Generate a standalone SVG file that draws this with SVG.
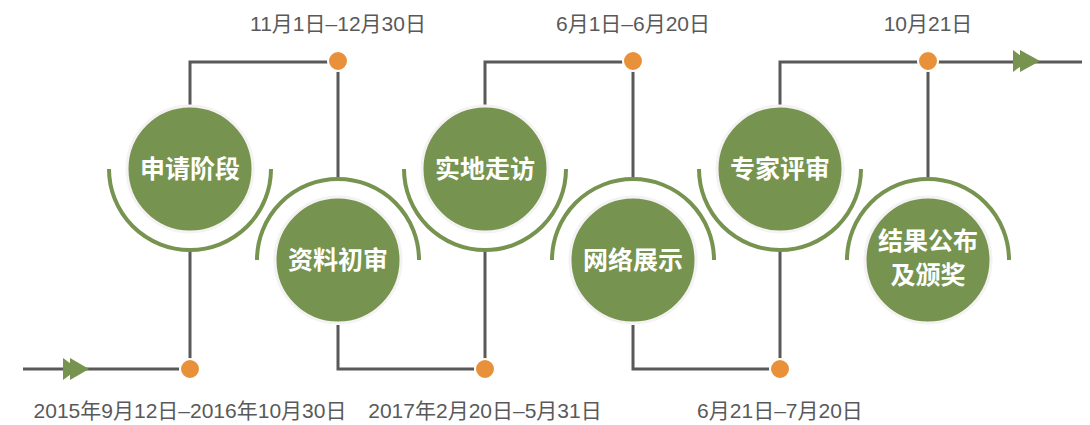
<svg xmlns="http://www.w3.org/2000/svg" width="1090" height="425" viewBox="0 0 1090 425">
<style>
.ln{fill:none;stroke:#595959;stroke-width:3}
.arc{fill:none;stroke:#76934f;stroke-width:4}
.c{fill:#76934f;stroke:#f4f2f2;stroke-width:3}
.dot{fill:#e8913a;stroke:#fff;stroke-width:2}
.arw{fill:#76934f}
.dt{font-family:"Liberation Sans","Noto Sans CJK SC",sans-serif;font-size:21px;fill:#595959;text-anchor:middle}
.t{font-family:"Noto Sans CJK SC",sans-serif;font-size:25px;font-weight:bold;fill:#fff;text-anchor:middle}
</style>
<rect width="1090" height="425" fill="#fff"/>
<g id="connectors">
<path class="ln" d="M23 369 H190 M190 250 V369 M190 105 V62 H338 M338 62 V178 M338 325 V369 H485 M485 369 V250 M485 105 V62 H633 M633 62 V178 M633 325 V369 H780 M780 369 V250 M780 105 V62 H1082 M928 62 V178"/>
<polygon class="arw" points="63,358 63,380 78,369"/>
<polygon class="arw" points="70,358 70,380 89,369"/>
<polygon class="arw" points="1013,50 1013,72 1028,61"/>
<polygon class="arw" points="1020,50 1020,72 1040,61"/>
</g>
<g id="dot1"><circle class="dot" cx="190" cy="369" r="10"/></g>
<g id="dot2"><circle class="dot" cx="338" cy="61" r="10"/></g>
<g id="dot3"><circle class="dot" cx="485" cy="369" r="10"/></g>
<g id="dot4"><circle class="dot" cx="633" cy="61" r="10"/></g>
<g id="dot5"><circle class="dot" cx="780" cy="369" r="10"/></g>
<g id="dot6"><circle class="dot" cx="928" cy="61" r="10"/></g>
<g id="node1">
<path class="arc" d="M109 169 A81 81 0 0 0 271 169"/>
<circle class="c" cx="190" cy="169" r="63"/>
<text class="t" x="190" y="178">申请阶段</text>
</g>
<g id="node2">
<path class="arc" d="M257 260 A81 81 0 0 1 419 260"/>
<circle class="c" cx="338" cy="260" r="63"/>
<text class="t" x="338" y="269">资料初审</text>
</g>
<g id="node3">
<path class="arc" d="M404 169 A81 81 0 0 0 566 169"/>
<circle class="c" cx="485" cy="169" r="63"/>
<text class="t" x="485" y="178">实地走访</text>
</g>
<g id="node4">
<path class="arc" d="M552 260 A81 81 0 0 1 714 260"/>
<circle class="c" cx="633" cy="260" r="63"/>
<text class="t" x="633" y="269">网络展示</text>
</g>
<g id="node5">
<path class="arc" d="M699 169 A81 81 0 0 0 861 169"/>
<circle class="c" cx="780" cy="169" r="63"/>
<text class="t" x="780" y="178">专家评审</text>
</g>
<g id="node6">
<path class="arc" d="M847 260 A81 81 0 0 1 1009 260"/>
<circle class="c" cx="928" cy="260" r="63"/>
<text class="t" x="928" y="250">结果公布</text>
<text class="t" x="928" y="284">及颁奖</text>
</g>
<g id="labels">
<text class="dt" x="338" y="31">11月1日–12月30日</text>
<text class="dt" x="633" y="31">6月1日–6月20日</text>
<text class="dt" x="928" y="31">10月21日</text>
<text class="dt" x="190" y="418">2015年9月12日–2016年10月30日</text>
<text class="dt" x="485" y="418">2017年2月20日–5月31日</text>
<text class="dt" x="780" y="418">6月21日–7月20日</text>
</g>
</svg>
